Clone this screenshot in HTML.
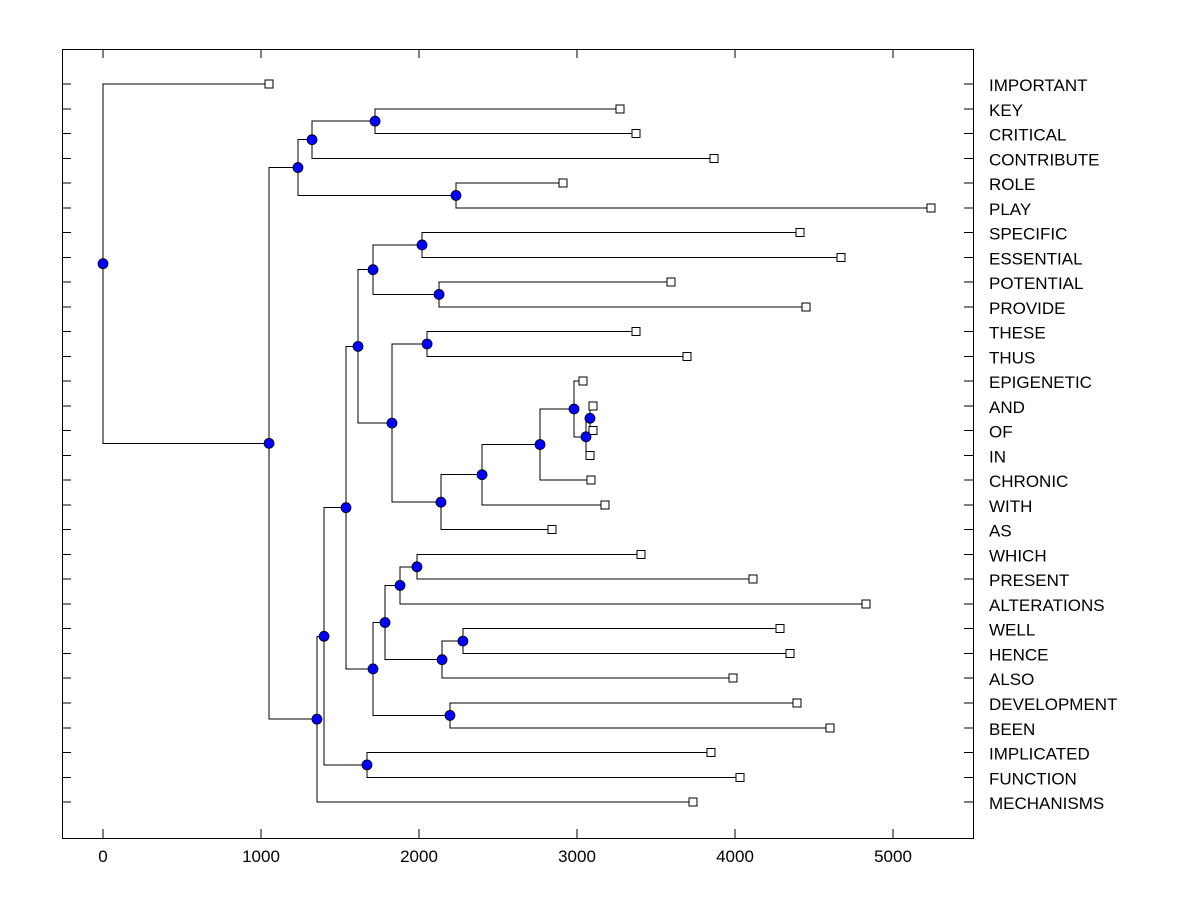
<!DOCTYPE html>
<html><head><meta charset="utf-8"><style>
html,body{margin:0;padding:0;background:#fff;}
svg{display:block;font-family:"Liberation Sans",sans-serif;}
</style></head><body>
<svg id="chart" width="1200" height="900">
<rect x="62.5" y="49.5" width="911" height="789" fill="none" stroke="#000" stroke-width="1" shape-rendering="crispEdges"/>
<g id="axes" shape-rendering="crispEdges"></g><g id="links" shape-rendering="crispEdges"></g><g id="marks"></g>
</svg>
<script>
const leafNames = ["IMPORTANT","KEY","CRITICAL","CONTRIBUTE","ROLE","PLAY","SPECIFIC","ESSENTIAL","POTENTIAL","PROVIDE","THESE","THUS","EPIGENETIC","AND","OF","IN","CHRONIC","WITH","AS","WHICH","PRESENT","ALTERATIONS","WELL","HENCE","ALSO","DEVELOPMENT","BEEN","IMPLICATED","FUNCTION","MECHANISMS"];
const leafHeights = [1051,3272,3373,3867,2911,5241,4411,4671,3595,4449,3373,3696,3038,3101,3101,3082,3089,3177,2842,3405,4114,4829,4285,4348,3987,4392,4601,3848,4032,3734];
// internal nodes: [id, height, childA, childB]; children are leaf names or node ids
const nodes = [
 ["n590",3082,"AND","OF"],["n586",3057,"n590","IN"],["n574",2981,"EPIGENETIC","n586"],
 ["n540",2766,"n574","CHRONIC"],["n482",2399,"n540","WITH"],["n441",2139,"n482","AS"],
 ["n427",2051,"THESE","THUS"],["n392",1829,"n427","n441"],
 ["n422",2019,"SPECIFIC","ESSENTIAL"],["n439",2127,"POTENTIAL","PROVIDE"],["n373a",1709,"n422","n439"],
 ["n358",1614,"n373a","n392"],
 ["n417",1987,"WHICH","PRESENT"],["n400",1880,"n417","ALTERATIONS"],["n463",2278,"WELL","HENCE"],
 ["n443",2146,"n463","ALSO"],["n385",1785,"n400","n443"],["n450",2196,"DEVELOPMENT","BEEN"],
 ["n373b",1709,"n385","n450"],["n346",1538,"n358","n373b"],["n367",1671,"IMPLICATED","FUNCTION"],
 ["n324",1399,"n346","n367"],["n317",1354,"n324","MECHANISMS"],
 ["n375",1722,"KEY","CRITICAL"],["n312",1323,"n375","CONTRIBUTE"],["n456",2234,"ROLE","PLAY"],
 ["n298",1234,"n312","n456"],["nA",1051,"n298","n317"],["root",0,"IMPORTANT","nA"]
];
const xTicks = [0,1000,2000,3000,4000,5000];
const xs = v => 103 + v*0.158;
const ys = i => 84 + i*24.76;
const NS="http://www.w3.org/2000/svg";
function mk(tag,attrs,parent){const e=document.createElementNS(NS,tag);for(const k in attrs)e.setAttribute(k,attrs[k]);parent.appendChild(e);return e;}
const axes=document.getElementById('axes'),links=document.getElementById('links'),marks=document.getElementById('marks');
xTicks.forEach(t=>{
 const x=xs(t);
 let l=mk('line',{x1:x,x2:x,y1:838,y2:829,stroke:'#000'},axes);
 
 
 l=mk('line',{x1:x,x2:x,y1:49,y2:58,stroke:'#000'},axes);
 
 
 const tx=mk('text',{x:x,y:862,'text-anchor':'middle','font-size':'17'},axes);
 tx.textContent=t;
 
 
});
const pos={};
leafNames.forEach((n,i)=>{
 pos[n]={x:xs(leafHeights[i]),y:ys(i),leaf:true};
 const y=ys(i);
 let l=mk('line',{x1:62,x2:71,y1:y,y2:y,stroke:'#000'},axes);
 
 
 l=mk('line',{x1:964,x2:973,y1:y,y2:y,stroke:'#000'},axes);
 
 
 const tx=mk('text',{x:989,y:y+7,'font-size':'17'},axes);
 tx.textContent=n;
 
 
});
nodes.forEach(([id,h,a,b])=>{
 const x=xs(h),pa=pos[a],pb=pos[b];
 pos[id]={x:x,y:(pa.y+pb.y)/2,leaf:false};
 const p=mk('path',{d:`M${pa.x},${pa.y}H${x}V${pb.y}H${pb.x}`,fill:'none',stroke:'#000','stroke-width':1},links);
 
 
});
leafNames.forEach(n=>{
 const p=pos[n];
 const r=mk('rect',{x:p.x-4,y:p.y-4,width:8,height:8,fill:'#fff',stroke:'#000','shape-rendering':'crispEdges'},marks);
 
 
});
nodes.forEach(([id])=>{
 const p=pos[id];
 const c=mk('circle',{cx:p.x,cy:p.y,r:5,fill:'#0000ff',stroke:'#000','stroke-width':0.8},marks);
 
 
});
</script>
</body></html>
